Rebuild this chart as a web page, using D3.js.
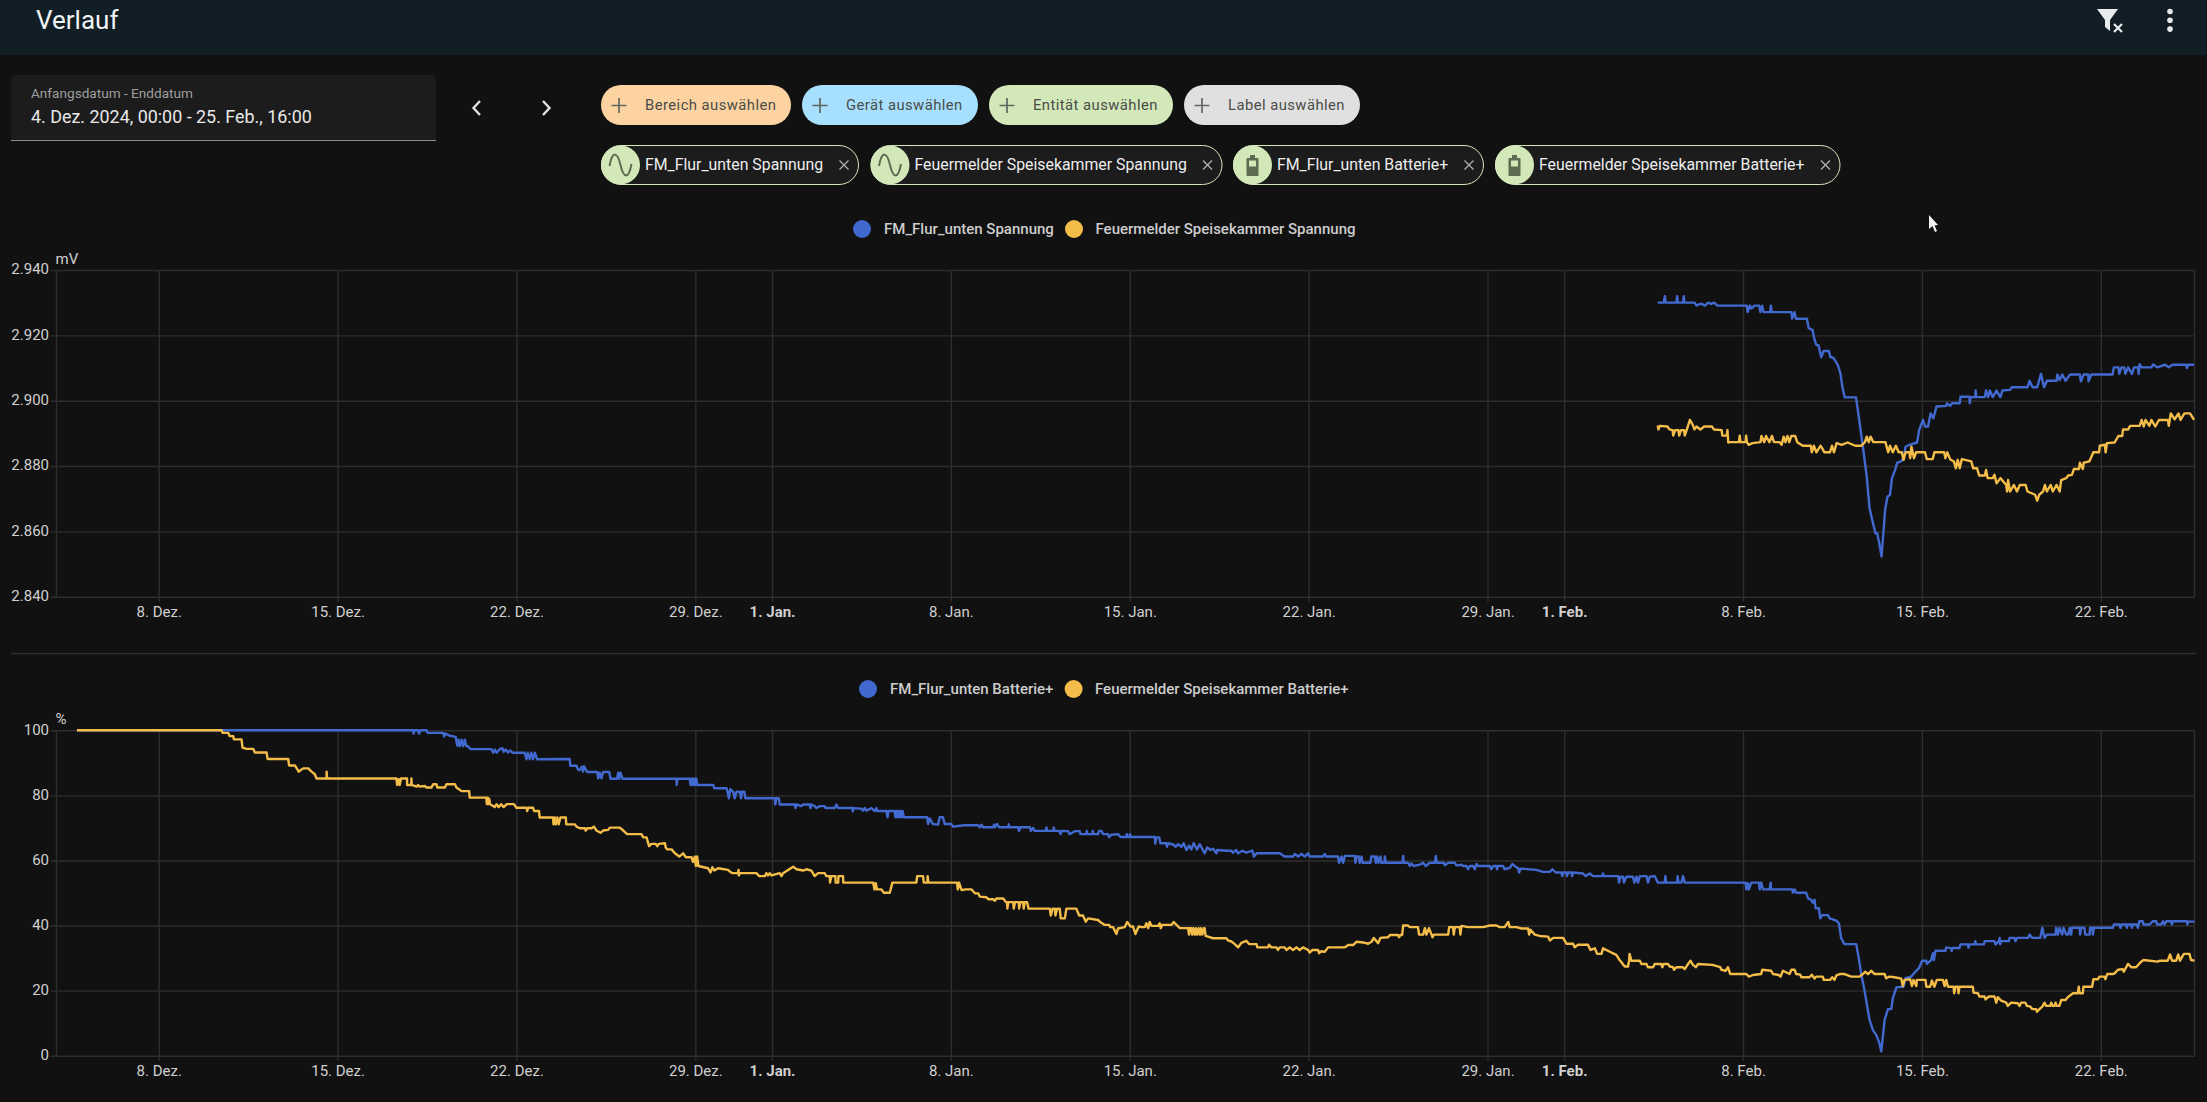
<!DOCTYPE html>
<html>
<head>
<meta charset="utf-8">
<title>Verlauf</title>
<script src="https://cdn.jsdelivr.net/npm/d3@7"></script>
<style>
  body { margin: 0; background: #111111; overflow: hidden; }
  text { font-family: Roboto, sans-serif; }
  .axis text { font-size: 15px; fill: #d0d0d0; font-family: Roboto, sans-serif; }
  .axis path { display: none; }
  .axis line { stroke: #2e2e2e; stroke-width: 1.4px; }
</style>
</head>
<body>
<script>
// Set globals
const tickDays = [4, 11, 18, 25, 28, 35, 42, 49, 56, 59, 66, 73, 80];
const tickLabels = ["8. Dez.", "15. Dez.", "22. Dez.", "29. Dez.", "1. Jan.", "8. Jan.", "15. Jan.", "22. Jan.", "29. Jan.", "1. Feb.", "8. Feb.", "15. Feb.", "22. Feb."];
const boldLabels = ["1. Jan.", "1. Feb."];
const voltTicks = [2840, 2860, 2880, 2900, 2920, 2940];
const percentTicks = [0, 20, 40, 60, 80, 100];

const addButtons = ["Bereich auswählen", "Gerät auswählen", "Entität auswählen", "Label auswählen"];
const voltNames = ["FM_Flur_unten Spannung", "Feuermelder Speisekammer Spannung"];
const batteryNames = ["FM_Flur_unten Batterie+", "Feuermelder Speisekammer Batterie+"];

// [days since 4. Dez., mV]
const flurVolt = [[62.66,2930],[62.89,2930],[62.94,2932],[62.97,2930],[63.39,2930],[63.42,2932],[63.45,2930],[63.65,2930],[63.68,2932],[63.71,2930],[64.1,2930],[64.18,2929.1],[64.3,2929.6],[64.4,2929.6],[64.51,2929.1],[64.63,2930],[64.75,2929.6],[64.87,2930],[65,2929.1],[66.15,2929.1],[66.18,2927.1],[66.27,2929.1],[66.33,2928.2],[66.45,2929.1],[66.63,2929.1],[66.68,2927.1],[66.75,2929.1],[66.8,2927.1],[67.06,2927.1],[67.09,2929.1],[67.12,2927.1],[67.89,2927.1],[67.92,2925.1],[68.01,2927.1],[68.07,2925.1],[68.5,2925.1],[68.57,2922.2],[68.72,2921.6],[68.8,2918.6],[68.87,2917],[68.95,2917],[69.06,2913.3],[69.15,2915.2],[69.36,2915.2],[69.42,2913.3],[69.48,2913.3],[69.56,2912.9],[69.71,2910.9],[69.81,2908.4],[69.89,2904.1],[69.98,2901],[70.42,2901],[70.51,2896.1],[70.69,2885.9],[70.84,2876.8],[70.95,2867.1],[71.04,2864],[71.18,2859.4],[71.25,2859.4],[71.33,2856.4],[71.42,2852.3],[71.56,2866.6],[71.65,2870.6],[71.75,2871.2],[71.83,2876.3],[71.95,2878.8],[72.03,2881],[72.18,2881.4],[72.28,2882.4],[72.36,2885.9],[72.51,2886.5],[72.81,2887.2],[72.89,2891],[73.04,2894.1],[73.12,2892.1],[73.24,2892.1],[73.34,2896.1],[73.45,2894.6],[73.57,2898.2],[73.95,2898.4],[73.98,2899.2],[74.1,2898.4],[74.18,2899.2],[74.48,2899.2],[74.51,2901.2],[74.86,2901.2],[74.87,2899.2],[74.9,2901.1],[75.09,2901.1],[75.1,2903.1],[75.13,2901.1],[75.46,2901.1],[75.51,2903.1],[75.59,2901.1],[75.66,2903.1],[75.77,2901.1],[75.92,2903.1],[76.07,2901.1],[76.15,2903.1],[76.45,2903.3],[76.52,2904.1],[76.68,2904.1],[77.13,2904.1],[77.21,2906.1],[77.33,2904.1],[77.51,2904.1],[77.66,2908.2],[77.78,2904.1],[77.89,2906.1],[78.27,2906.1],[78.3,2908],[78.39,2906.3],[78.49,2908],[78.62,2906.1],[78.8,2908],[79.18,2908],[79.22,2905.9],[79.33,2908],[79.51,2908],[79.52,2905.9],[79.63,2908],[79.75,2908],[80.46,2908],[80.51,2910.2],[80.69,2910.2],[80.72,2908.2],[80.81,2910.2],[80.92,2910.2],[80.96,2908.2],[81.07,2910.2],[81.22,2908.2],[81.3,2910.2],[81.45,2910.2],[81.48,2908.2],[81.52,2911.2],[81.6,2910.2],[81.98,2910.2],[82.05,2911.1],[82.21,2910.2],[82.51,2911],[82.66,2910.2],[82.81,2911],[83.34,2911],[83.37,2910],[83.42,2911],[83.65,2911]];

const kammerVolt = [[62.66,2892.4],[62.69,2891.2],[62.74,2892.3],[63.04,2892.1],[63.12,2891.2],[63.24,2891],[63.27,2889.3],[63.34,2891],[63.47,2891],[63.5,2889.3],[63.57,2891],[63.69,2891],[63.72,2889.3],[63.84,2892.1],[63.92,2894.1],[64.03,2892.6],[64.1,2891.2],[64.18,2892.1],[64.33,2891.2],[64.48,2892.1],[64.78,2892.1],[64.86,2891.2],[65.16,2891],[65.19,2889.3],[65.36,2889.3],[65.39,2891],[65.42,2887.2],[65.47,2887.3],[65.84,2887.3],[65.87,2889.3],[65.9,2887.3],[66.1,2887.3],[66.12,2889.3],[66.15,2887.3],[66.22,2886.5],[66.37,2887],[66.68,2887.3],[66.72,2889.2],[66.83,2887.3],[66.9,2889.2],[67.03,2887.3],[67.13,2889.2],[67.21,2887.3],[67.43,2887.3],[67.51,2886.5],[67.59,2889],[67.66,2887.3],[67.74,2889.2],[67.81,2887.3],[67.89,2889.2],[68.04,2889.2],[68.12,2887.3],[68.34,2886.2],[68.65,2886.2],[68.69,2884.2],[68.77,2886.2],[68.87,2884.2],[69.03,2886.2],[69.1,2885.4],[69.18,2884.2],[69.4,2884.2],[69.48,2886.2],[69.56,2884.2],[69.66,2887],[69.86,2886.5],[70.09,2887.2],[70.39,2886.2],[70.62,2886.2],[70.77,2887.3],[70.84,2889],[70.92,2887.3],[70.99,2889],[71.1,2887.3],[71.57,2887.3],[71.68,2884.2],[71.75,2886.2],[71.86,2884.2],[71.98,2886.2],[72.09,2884.2],[72.21,2884.2],[72.28,2881.9],[72.36,2884.2],[72.51,2884.2],[72.54,2882.4],[72.59,2885.9],[72.69,2882.4],[72.77,2884.2],[73.12,2884.2],[73.19,2882.1],[73.42,2882.1],[73.49,2884.2],[73.87,2884.2],[73.92,2882.4],[73.99,2884.2],[74.1,2882.1],[74.25,2881.4],[74.33,2879.3],[74.4,2881.9],[74.48,2879.3],[74.56,2882.1],[74.93,2881.4],[75.01,2879.3],[75.16,2879.3],[75.24,2877.1],[75.46,2877.1],[75.51,2878.8],[75.57,2876.3],[75.77,2876.3],[75.84,2877.3],[75.92,2874.7],[76.07,2876.3],[76.3,2874.2],[76.33,2872.2],[76.37,2875.7],[76.45,2872.2],[76.6,2874.2],[76.72,2872.2],[76.83,2874.2],[77.06,2874.2],[77.13,2872.2],[77.43,2871.2],[77.51,2869.4],[77.59,2871.2],[77.74,2872.2],[77.81,2874.2],[77.89,2872.2],[78.04,2874.2],[78.12,2872.2],[78.27,2874.2],[78.39,2872.2],[78.45,2875.7],[78.65,2876.3],[78.72,2877.1],[78.87,2877.3],[78.95,2879.1],[79.15,2879.1],[79.18,2881],[79.3,2879.1],[79.33,2881],[79.55,2881.4],[79.71,2884.2],[79.93,2884.2],[79.96,2886.2],[80.16,2886.5],[80.19,2884.2],[80.24,2887],[80.54,2887.2],[80.69,2889.2],[80.84,2889.2],[80.87,2891.2],[81.07,2891.2],[81.15,2892.3],[81.52,2892.3],[81.6,2894.1],[81.68,2892.1],[81.75,2894.1],[81.9,2892.3],[81.98,2894.1],[82.13,2892.1],[82.28,2894.1],[82.63,2894.1],[82.66,2892.3],[82.74,2896.1],[82.89,2894.3],[83.04,2896.1],[83.12,2894.1],[83.27,2896.1],[83.49,2896.1],[83.65,2894.1]];

// [days since 4. Dez., percent]
const flurBattery = [[0.8,100],[13.96,100],[13.97,99],[14.01,100],[14.15,100],[14.19,99],[14.24,100],[14.48,100],[14.52,99.2],[15.13,99.2],[15.17,98.1],[15.23,99],[15.36,98.4],[15.62,98],[15.68,95.3],[15.73,97.1],[15.78,95.1],[15.85,97.1],[15.91,95.1],[15.98,97.1],[16.04,95.1],[16.11,95.1],[16.2,94.2],[17.02,94.2],[17.09,93.1],[17.15,94.1],[17.22,93.1],[17.35,94.2],[17.45,94.5],[17.5,93.4],[17.58,94.1],[17.67,93.2],[17.76,93.8],[17.84,93.1],[18.32,93.1],[18.39,91.1],[18.44,93.1],[18.52,91.1],[18.58,93.1],[18.65,91.1],[18.72,93.1],[18.81,91.1],[20.08,91.2],[20.11,89.1],[20.35,89.1],[20.41,87.9],[20.48,87.8],[20.55,88.8],[20.61,87.3],[20.64,89],[20.77,87.2],[21.16,87.2],[21.2,85.2],[21.26,87],[21.33,85.2],[21.39,87.2],[21.63,87.2],[21.68,85.1],[21.94,85.1],[21.98,87],[22.02,85.1],[22.07,87],[22.15,85.1],[24.26,85.1],[24.27,83.2],[24.3,85.1],[24.78,85.1],[24.81,83.2],[24.85,85.1],[24.86,83.2],[24.91,85.1],[24.93,83.2],[24.98,85.1],[24.99,83.2],[25.04,85.1],[25.07,83.2],[25.7,83.2],[25.74,82.2],[26.22,82.2],[26.26,81.1],[26.31,79.1],[26.37,81.9],[26.48,81.1],[26.54,79.1],[26.61,81.1],[26.74,81.1],[26.79,79.1],[26.83,81.1],[26.92,81.1],[26.96,79.1],[28.11,79.1],[28.13,77.2],[28.17,79.1],[28.27,79.1],[28.3,77.2],[28.89,77.2],[28.92,76.1],[28.96,77.2],[29.15,76.7],[29.22,77.2],[29.48,77.2],[29.5,76.1],[29.54,77.2],[29.67,76.7],[29.74,76.1],[29.87,76.7],[30.06,76.7],[30.1,76.1],[30.46,76.1],[30.52,77.2],[30.59,76.1],[31.15,76.1],[31.16,75.1],[31.19,76.1],[31.5,75.9],[31.56,75.3],[31.63,76.1],[31.69,75.3],[31.89,76.1],[32.02,75.2],[32.09,76.1],[32.11,75.2],[32.48,75.2],[32.52,73.3],[32.56,75.2],[32.8,75.2],[32.83,73.3],[32.87,75.2],[32.91,73.3],[32.95,75.2],[32.99,73.3],[33.03,75.2],[33.07,73.3],[33.11,75.2],[33.16,73.3],[34.07,73.3],[34.11,71.2],[34.17,72.9],[34.3,71.2],[34.5,71],[34.56,73.3],[34.69,73.3],[34.76,71.2],[35.02,71.2],[35.08,70.4],[35.28,70.6],[35.48,70.8],[36.07,70.8],[36.13,70.2],[36.2,71],[36.26,70.2],[36.65,70.2],[36.69,71],[36.72,70.2],[36.81,71.2],[36.89,70.2],[37.24,70.2],[37.27,71.1],[37.29,70.2],[37.63,70.2],[37.67,69.1],[37.71,70.2],[38.09,70.2],[38.13,69.1],[38.22,70],[38.28,69.1],[38.71,69.1],[38.74,70.1],[38.77,69.1],[39,69.1],[39.03,70.1],[39.05,69.1],[39.24,69.1],[39.29,68.1],[39.33,69.1],[39.59,69],[39.65,68.1],[39.85,69],[40.04,69],[40.07,68.1],[40.31,68.1],[40.32,69.1],[40.34,68.1],[40.54,68.1],[40.55,69.1],[40.58,68.1],[40.76,68.1],[40.8,69.1],[40.89,69.1],[40.96,68.1],[41.15,68.1],[41.19,67.2],[41.28,67.9],[41.54,68.1],[41.64,67.2],[41.87,67.2],[41.88,68.1],[41.91,67.2],[42,67.2],[42.01,68.1],[42.04,67.2],[42.98,67.2],[43,65.2],[43.04,67.1],[43.15,67.1],[43.2,65.3],[43.43,65.3],[43.46,64.2],[43.5,65.3],[43.7,64.9],[43.8,64.2],[43.89,65],[44.02,64.2],[44.11,65.3],[44.22,63.2],[44.32,64.6],[44.41,63.4],[44.5,65.3],[44.63,63.4],[44.74,65],[44.93,62.2],[45.03,64],[45.16,63.2],[45.26,63.6],[45.39,62.2],[45.42,63.2],[45.78,63],[45.98,63],[46.04,62.4],[46.17,63.2],[46.24,62.2],[46.41,63],[46.56,62.4],[46.8,63],[46.86,61.2],[46.96,62.2],[47.87,62.2],[48.06,61.2],[48.39,61.2],[48.46,62],[48.59,61.2],[48.72,62],[48.85,61.2],[48.98,62.2],[49.04,61.2],[49.56,61.2],[49.63,62],[49.69,61.2],[50.15,61.2],[50.19,59.3],[50.29,61.2],[50.35,59.3],[50.42,61.4],[50.81,61.4],[50.83,59.3],[50.87,61.2],[50.96,61.2],[51,59.3],[51.07,61.2],[51.11,59.3],[51.42,59.3],[51.45,61.2],[51.59,61.2],[51.63,59.3],[51.68,61.2],[51.73,59.3],[51.81,61.2],[51.84,59.3],[51.97,59.3],[51.98,61.2],[52.02,59.3],[52.67,59.3],[52.7,61.4],[52.72,59.3],[52.89,59.3],[52.96,58.3],[53.02,59.1],[53.11,58.3],[53.35,58.7],[53.48,59.3],[53.58,58.3],[53.74,59.3],[53.94,59.3],[53.98,61.4],[54.01,59.3],[54.29,59.3],[54.33,58.5],[54.46,59.3],[54.72,59.3],[54.78,58.5],[54.98,58.7],[55.05,58.3],[55.18,58.3],[55.24,57.3],[55.31,58.3],[55.44,58.3],[55.5,57.3],[55.57,58.9],[55.63,58.3],[56.09,58.3],[56.15,57.3],[56.22,58.3],[56.35,58.3],[56.37,57.3],[56.41,58.3],[56.61,58.3],[56.67,57.3],[56.87,57.7],[56.97,58.9],[57.1,58.1],[57.2,57.6],[57.24,56.3],[57.29,57.5],[57.91,57.1],[58.17,56.5],[58.44,56.5],[58.54,57.3],[58.67,56.3],[58.89,56.3],[58.92,55.2],[58.96,56.3],[59.09,56.3],[59.11,55.2],[59.15,56.3],[59.28,56.3],[59.31,55.2],[59.35,56.3],[59.74,56],[59.84,55.2],[60,56],[60.13,55.2],[60.48,55.2],[60.52,56],[60.55,55.2],[61.11,55.2],[61.15,53.2],[61.2,55],[61.3,55],[61.34,53.2],[61.43,55],[61.69,55],[61.75,53.2],[61.83,55],[61.89,53.2],[61.96,55.2],[62.22,55.2],[62.28,53.2],[62.35,55],[62.54,55.2],[62.67,53.2],[62.93,53.2],[62.96,55.2],[62.99,53.2],[63.42,53.2],[63.44,55.2],[63.47,53.2],[63.59,53.2],[63.65,55.2],[63.72,53.2],[66.1,53.2],[66.13,51.1],[66.19,53],[66.23,51.1],[66.32,53.2],[66.62,53.2],[66.65,51.1],[66.71,53.2],[66.78,51.1],[67.04,51.1],[67.08,53.2],[67.1,51.1],[67.93,51.1],[67.95,50.1],[68.02,51.1],[68.08,50.1],[68.47,50.1],[68.54,48.4],[68.67,47.9],[68.73,47],[68.8,47.9],[68.84,45.3],[68.97,45.3],[69.02,42.2],[69.1,43.2],[69.32,43.2],[69.39,42.2],[69.65,41.5],[69.75,40.7],[69.84,36.1],[69.97,34.3],[70.43,34.3],[70.53,29.9],[70.62,25.3],[70.75,20.2],[70.95,11],[71.08,7.9],[71.21,6.4],[71.34,3.8],[71.41,1.3],[71.54,11],[71.67,14.3],[71.8,14.3],[71.86,17.6],[72,21],[72.28,21.2],[72.36,23.8],[72.58,24.3],[72.71,25.5],[72.88,26.9],[73.01,29.2],[73.17,29.2],[73.19,28.2],[73.36,29.4],[73.43,31.5],[73.47,29.4],[73.53,32.3],[73.92,32.2],[73.95,33.3],[74.15,33],[74.16,32.2],[74.19,33.1],[74.47,33.1],[74.51,34.2],[74.8,34.2],[74.82,33.2],[74.86,34.2],[75.06,34.2],[75.09,35.2],[75.11,34.2],[75.42,34.2],[75.46,35.2],[75.84,35.2],[75.88,34.2],[76.01,35.2],[76.04,36.2],[76.06,34.2],[76.1,35.2],[76.4,35.2],[76.43,36.2],[76.62,36.2],[76.66,35.2],[76.72,36.2],[77.15,36.2],[77.21,37.2],[77.32,36.2],[77.63,36.2],[77.71,39.3],[77.8,36.2],[77.89,37.2],[78.23,37.2],[78.25,39.3],[78.32,37.2],[78.38,39.3],[78.49,37.2],[78.54,39.3],[78.65,37.2],[78.72,37.2],[78.78,39.2],[78.84,37.2],[78.87,39.3],[79.17,39.3],[79.19,37.2],[79.23,39.3],[79.36,39.3],[79.39,37.2],[79.56,37.2],[79.58,39.3],[79.66,39.3],[79.69,37.2],[79.73,39.3],[80.47,39.3],[80.51,40.3],[80.73,40.3],[80.77,39.3],[80.81,40.3],[80.99,40.3],[81.02,39.3],[81.04,40.3],[81.19,40.3],[81.21,39.3],[81.25,40.3],[81.41,40.3],[81.45,39.3],[81.51,41.3],[81.64,41.3],[81.67,40.3],[81.9,40.3],[82.03,41.3],[82.17,41.3],[82.2,40.3],[82.36,40.3],[82.43,41.3],[82.49,40.3],[82.56,41.3],[82.75,41.3],[82.78,40.3],[82.82,41.3],[83.37,41.3],[83.39,40.3],[83.42,41.2],[83.67,41.2]];

const kammerBattery = [[0.8,100],[6.46,100],[6.5,99.2],[6.72,99.2],[6.78,98.2],[6.92,98.2],[6.94,97.2],[7.24,97.2],[7.28,94.7],[7.44,94.3],[7.7,94.3],[7.76,93.2],[8.22,93.2],[8.26,91.2],[9.07,91.2],[9.1,89.2],[9.33,89.2],[9.48,87.3],[9.65,88.3],[9.85,88.3],[9.98,87.3],[10.11,86.5],[10.17,85.2],[10.57,85.2],[10.57,87.3],[10.59,85.2],[13.3,85.2],[13.33,83.2],[13.39,85],[13.43,83.2],[13.48,85.2],[13.72,85.2],[13.72,83.2],[13.88,83.2],[13.89,85.2],[13.9,83.2],[14.09,82.7],[14.15,83.2],[14.2,82.7],[14.41,82.9],[14.48,82.4],[14.67,82.4],[14.74,83.4],[14.87,83.4],[14.9,82.4],[15.2,82.4],[15.26,83.4],[15.59,83.4],[15.65,82.4],[15.78,81.7],[15.85,81.3],[16.15,81.3],[16.17,79.3],[16.82,79.3],[16.84,77.3],[16.87,79.3],[16.9,77.3],[16.93,79],[16.97,77.3],[17.15,76.4],[17.22,77.3],[17.3,76.4],[17.4,77.3],[17.5,76.4],[17.62,77.3],[17.9,77.3],[18,76.2],[18.39,76.2],[18.42,75.2],[18.46,76.2],[18.65,76.2],[18.69,75.2],[18.88,75.2],[18.91,73.2],[19.43,73.2],[19.45,71.1],[19.5,73.2],[19.54,71.1],[19.6,73.2],[19.65,71.1],[19.72,73.2],[19.93,73.2],[19.95,71.1],[20.28,71.1],[20.35,70.4],[20.48,69.9],[20.68,69.9],[20.71,69.2],[20.77,69.9],[20.94,69.9],[21.03,70.4],[21.13,69.2],[21.29,68.5],[21.39,69.2],[21.59,69.4],[21.65,70.1],[22.04,70.1],[22.18,69.2],[22.33,68.1],[22.89,68.1],[22.96,67.1],[23.09,67.1],[23.19,64.4],[23.28,65.1],[23.45,65.1],[23.51,64.4],[23.57,65.1],[23.81,65.3],[23.84,64],[23.9,63.4],[24.07,63.4],[24.2,62.2],[24.37,61.2],[24.52,62.2],[24.63,61],[24.85,61],[24.91,59.6],[24.98,61.2],[25.02,58.3],[25.07,61.2],[25.12,58.3],[25.5,57.6],[25.59,56.3],[25.67,57.9],[25.74,56.9],[25.89,57.6],[26.28,57.1],[26.35,56.6],[26.45,56.1],[26.67,56.1],[26.69,57.1],[26.7,55.4],[26.74,56.1],[27.39,56.1],[27.5,55.2],[27.72,55.2],[27.78,56.1],[27.85,55.4],[27.91,56.1],[27.98,55.4],[28.3,56.1],[28.37,55.2],[28.43,56.1],[28.63,57.1],[28.83,58.1],[28.96,57.3],[29.22,56.9],[29.35,57.3],[29.54,56.9],[29.67,55.2],[29.8,56.1],[30.06,56.1],[30.13,55.2],[30.26,55.2],[30.27,53.2],[30.33,55.2],[30.48,55.2],[30.49,53.2],[30.59,53.2],[30.6,55.2],[30.78,55.2],[30.79,53.2],[31.96,53.2],[32.01,51.1],[32.06,53],[32.11,51.1],[32.28,51.1],[32.37,50.1],[32.61,50.1],[32.71,53.2],[33.65,53.2],[33.68,55.2],[33.91,55.2],[33.94,53.2],[34.08,53.2],[34.09,55.2],[34.12,53.2],[35.24,53.2],[35.27,51.1],[35.32,53.2],[35.42,50.9],[35.58,51.1],[35.81,51.1],[35.94,49.9],[36.07,49.9],[36.13,48.9],[36.39,48.7],[36.46,48.1],[36.65,48.1],[36.72,47.6],[36.78,48.3],[37.05,48.3],[37.15,47.2],[37.2,47.2],[37.21,45.2],[37.25,47.2],[37.44,47.2],[37.46,45.2],[37.51,47.2],[37.66,47.2],[37.67,45.2],[37.72,47.2],[37.83,47.2],[37.85,45.2],[37.89,47.2],[37.98,47.2],[38.04,45.2],[38.87,45.2],[38.91,43.1],[38.98,45.2],[39.07,45.2],[39.09,43.1],[39.16,45.2],[39.26,45.2],[39.3,42.2],[39.46,42.2],[39.52,45.2],[39.91,45.2],[40.02,43.1],[40.17,43.1],[40.28,41.2],[40.37,42.2],[40.76,41.7],[40.83,41.2],[41.02,40.2],[41.19,40.2],[41.24,39.5],[41.35,39.5],[41.48,37.4],[41.54,39.1],[41.8,39.5],[41.9,41.1],[42.03,39.7],[42.13,39.7],[42.22,37.4],[42.35,39.7],[42.46,39.5],[42.59,39.5],[42.65,40.7],[42.72,39.2],[42.78,41.1],[42.85,39.9],[43.11,39.9],[43.17,40.7],[43.21,39.2],[43.27,40.2],[43.63,40.2],[43.72,41.1],[43.83,40.2],[43.96,39.2],[44.28,39.2],[44.32,37.2],[44.35,39.2],[44.41,39.2],[44.44,37.2],[44.48,39.2],[44.54,37.2],[44.58,39.2],[44.63,37.2],[44.69,39.2],[44.74,37.2],[44.79,39.2],[44.84,37.2],[44.9,39.2],[44.93,39.2],[44.97,36.8],[45.26,36.1],[45.78,36.1],[45.85,35.4],[45.98,35.1],[46.11,34.3],[46.24,33.3],[46.37,34.7],[46.56,35.3],[46.67,34.3],[46.96,34.3],[46.99,33.3],[47.41,33.3],[47.45,34.1],[47.54,33.3],[47.74,33.3],[47.8,32.5],[47.87,33.3],[48.06,33.3],[48.13,32.5],[48.26,33.3],[48.39,32.5],[48.52,33.3],[48.65,32.5],[48.78,33.3],[48.98,32.5],[49.04,31.7],[49.15,32.5],[49.37,32.5],[49.41,31.5],[49.5,32.1],[49.63,31.9],[49.76,33.3],[50.22,33.3],[50.42,33.3],[50.55,34],[50.74,34],[50.87,35],[51.13,34.8],[51.33,34.4],[51.46,35],[51.55,36.2],[51.72,34.6],[51.81,36.2],[52.11,36.4],[52.18,37.1],[52.5,37.1],[52.54,36.4],[52.59,37.1],[52.66,37.1],[52.7,40],[52.89,40],[52.96,39.5],[53.28,39.5],[53.32,37.2],[53.48,37.2],[53.55,39.2],[53.61,37.2],[53.71,39.2],[53.81,37.2],[53.85,36.4],[53.9,37.2],[54.46,37.2],[54.5,39.5],[54.65,39.5],[54.68,37.2],[54.72,39.5],[54.91,39.5],[54.94,37.2],[54.98,39.9],[55.24,39.5],[55.63,39.5],[55.83,39.5],[56.09,40],[56.35,40],[56.48,39.5],[56.67,39.5],[56.81,41.1],[56.87,39.5],[57.13,39.5],[57.33,39.1],[57.59,39.1],[57.63,37.2],[57.68,38.7],[57.85,37.2],[58.04,36.8],[58.37,36.6],[58.44,35.4],[58.57,36.2],[58.96,36.2],[59.09,34.4],[59.35,34.4],[59.41,33.3],[59.54,34.1],[59.93,34.1],[60.03,32.5],[60.2,33],[60.29,31.3],[60.46,31.3],[60.52,33],[60.85,31.7],[61.04,31],[61.17,29.4],[61.37,27.4],[61.5,27.4],[61.54,29.2],[61.56,31.3],[61.63,29.2],[61.96,29.2],[62.02,28.2],[62.22,28.2],[62.28,27.2],[62.48,27.2],[62.54,28.2],[62.8,28.2],[62.84,27.2],[62.89,28.2],[63.06,28.2],[63.13,27.4],[63.26,27.2],[63.3,26.4],[63.39,27.2],[63.65,27.2],[63.72,26.6],[63.85,28.2],[63.94,29.2],[64.04,27.9],[64.15,27.2],[64.24,28.2],[64.8,27.9],[65.11,27.2],[65.15,26.4],[65.32,26.1],[65.41,27.2],[65.5,25.1],[65.86,25.1],[66.13,25.1],[66.23,24.3],[66.39,24.8],[66.71,25.1],[66.75,26.4],[67.1,26.1],[67.17,25.1],[67.4,24.8],[67.47,24.3],[67.56,26.1],[67.82,25.1],[67.89,26.4],[68.02,26.4],[68.08,25.1],[68.24,24.9],[68.28,24.1],[68.6,24.1],[68.69,24.9],[68.8,23.7],[68.86,24.3],[69.12,24.3],[69.16,23.3],[69.41,23.3],[69.49,24.1],[69.58,23.3],[69.65,24.7],[69.78,25.1],[69.97,25.1],[70.23,24.3],[70.56,24.3],[70.69,25.1],[70.78,25.8],[70.89,25.1],[71.02,26.1],[71.15,25.1],[71.54,25.1],[71.6,23.8],[71.73,24.3],[71.93,24.1],[72.19,23.7],[72.25,21.4],[72.32,23.3],[72.54,23.5],[72.61,21.4],[72.67,23.3],[72.78,21.4],[72.8,23.3],[73.14,23.3],[73.17,21.2],[73.32,21.2],[73.39,23.1],[73.49,21.2],[73.58,23.3],[73.82,23.3],[73.89,21.4],[73.95,23.3],[74.02,21.2],[74.24,21.2],[74.26,19.2],[74.32,21.2],[74.41,21.2],[74.43,19.2],[74.47,21.2],[74.99,21.2],[75.02,19.4],[75.19,19.2],[75.25,18.2],[75.45,18.2],[75.49,17.3],[75.62,18.2],[75.84,18.2],[75.91,16.3],[75.97,18],[76.1,16.9],[76.3,16.3],[76.36,15.3],[76.49,16.3],[76.75,16.1],[76.82,15.3],[76.88,16.3],[77.05,16.3],[77.11,15.3],[77.24,15.1],[77.32,14.3],[77.47,14.3],[77.5,13.5],[77.6,14.3],[77.71,15.1],[77.8,16.3],[77.86,15.3],[78.02,15.3],[78.06,16.3],[78.12,15.3],[78.19,15.3],[78.23,16.3],[78.28,15.3],[78.38,15.3],[78.45,17.1],[78.62,17.1],[78.71,18],[78.91,19.2],[79.1,19.2],[79.14,21.2],[79.17,19.2],[79.3,19.2],[79.32,21.2],[79.66,21.2],[79.71,23.5],[79.88,23.5],[79.95,24.3],[80.14,24.3],[80.18,23.5],[80.25,25.1],[80.47,25.1],[80.54,25.3],[80.67,26.4],[80.86,26.6],[80.9,25.8],[81.06,28.2],[81.19,27.2],[81.38,27.2],[81.58,28.9],[81.67,29.4],[82.23,28.9],[82.3,29.2],[82.62,29.2],[82.71,31.1],[82.79,29.2],[82.95,29.2],[83.03,31.1],[83.1,29.2],[83.25,31.3],[83.47,31.3],[83.53,29.4],[83.67,29.2]];

const blue = "#4269d0";
const yellow = "#f4bd4a";
const plotLeft = 56.5, plotRight = 2194.5;
const start = Date.UTC(2024, 11, 4);
const dayDate = function (d) { return new Date(start + d * 864e5); };

const svg = d3.select("body").append("svg")
  .attr("width", 2207).attr("height", 1102)
  .style("display", "block");

const de = d3.formatLocale({ decimal: ",", thousands: ".", grouping: [3], currency: ["", " €"] });

const x = d3.scaleUtc()
  .domain([dayDate(0), new Date(Date.UTC(2025, 1, 25, 16))])
  .range([plotLeft, plotRight]);

// header bar
svg.append("rect").attr("width", 2207).attr("height", 55).attr("fill", "#111e25");
svg.append("text").attr("x", 36).attr("y", 29).attr("font-size", 26).attr("fill", "#f0f3f4").text("Verlauf");

// filter icon + menu dots
svg.append("path").attr("d", "M2097,9H2118L2110,20V31L2105,27V20Z").attr("fill", "#e8ebec");
svg.append("path").attr("d", "M2114,24L2122,32M2122,24L2114,32").attr("stroke", "#e8ebec").attr("stroke-width", 2.2);
svg.selectAll(".dot").data([0, 1, 2]).enter().append("circle")
  .attr("cx", 2170).attr("cy", function (d) { return 11.5 + d * 8.8; }).attr("r", 2.8).attr("fill", "#e8ebec");

// date field
svg.append("path").attr("d", "M11,140V80a5,5 0 0 1 5,-5H431a5,5 0 0 1 5,5V140Z").attr("fill", "#1c1c1c");
svg.append("line").attr("x1", 11).attr("x2", 436).attr("y1", 140.5).attr("y2", 140.5).attr("stroke", "#8c8c8c").attr("stroke-width", 1.2);
svg.append("text").attr("x", 31).attr("y", 98).attr("font-size", 13.6).attr("fill", "#9e9e9e").text("Anfangsdatum - Enddatum");
svg.append("text").attr("x", 31).attr("y", 122.5).attr("font-size", 17.9).attr("fill", "#e8e8e8").text("4. Dez. 2024, 00:00 - 25. Feb., 16:00");

// date arrows
svg.append("path").attr("d", "M480,101L473.5,108L480,115").attr("fill", "none").attr("stroke", "#e0e0e0").attr("stroke-width", 2.4);
svg.append("path").attr("d", "M543,101L549.5,108L543,115").attr("fill", "none").attr("stroke", "#e0e0e0").attr("stroke-width", 2.4);

// add buttons
const buttonBoxes = [[601, 791, "#fdd3a2"], [802, 978, "#a7dffe"], [989, 1173, "#d3e8b9"], [1184, 1360, "#e0e0e0"]];
buttonBoxes.forEach(function (b, i) {
  svg.append("rect").attr("x", b[0]).attr("y", 85).attr("width", b[1] - b[0]).attr("height", 40).attr("rx", 20).attr("fill", b[2]);
  svg.append("path").attr("d", "M" + (b[0] + 18) + ",98V113M" + (b[0] + 10.5) + ",105.5H" + (b[0] + 25.5))
    .attr("stroke", "#5f6660").attr("stroke-width", 1.7);
  svg.append("text").attr("x", b[0] + 44).attr("y", 110).attr("font-size", 14.8).attr("letter-spacing", 0.45)
    .attr("fill", "#4a4d48").text(addButtons[i]);
});

// selected entity chips
const chipNames = [voltNames[0], voltNames[1], batteryNames[0], batteryNames[1]];
const chipBoxes = [[601, 859, "sine"], [870.5, 1222.5, "sine"], [1233, 1484, "bat"], [1495, 1840.5, "bat"]];
chipBoxes.forEach(function (c, i) {
  const cx = c[0] + 19.5;
  svg.append("rect").attr("x", c[0] + 0.5).attr("y", 145.5).attr("width", c[1] - c[0] - 1).attr("height", 39).attr("rx", 19.5)
    .attr("fill", "#1c1c1c").attr("stroke", "#d3e8b9").attr("stroke-width", 1);
  svg.append("circle").attr("cx", cx).attr("cy", 165).attr("r", 19.5).attr("fill", "#d3e8b9");
  if (c[2] == "sine") {
    svg.append("path").attr("fill", "none").attr("stroke", "#5d6b50").attr("stroke-width", 2)
      .attr("d", "M" + (cx - 11) + ",166C" + (cx - 8) + ",150 " + (cx - 3) + ",152 " + cx + ",165C" + (cx + 3) + ",178 " + (cx + 8) + ",180 " + (cx + 11) + ",164");
  } else {
    svg.append("rect").attr("x", cx - 6).attr("y", 158).attr("width", 12).attr("height", 18).attr("rx", 1).attr("fill", "#5d6b50");
    svg.append("rect").attr("x", cx - 2.5).attr("y", 155).attr("width", 5).attr("height", 3).attr("fill", "#5d6b50");
    svg.append("rect").attr("x", cx - 3.5).attr("y", 160.5).attr("width", 7).attr("height", 6).attr("fill", "#d3e8b9");
  }
  svg.append("text").attr("x", c[0] + 44).attr("y", 170).attr("font-size", 15.85).attr("fill", "#eeeeee").text(chipNames[i]);
  const mx = c[1] - 15;
  svg.append("path").attr("d", "M" + (mx - 4.5) + ",160.5L" + (mx + 4.5) + ",169.5M" + (mx + 4.5) + ",160.5L" + (mx - 4.5) + ",169.5")
    .attr("stroke", "#b0b0b0").attr("stroke-width", 1.3);
});

// mouse pointer left in the screenshot
svg.append("path").attr("d", "M1929,215V229L1932.5,226L1935,232L1937,231L1934.5,225.5L1938,225Z").attr("fill", "#f5f5f5");

// divider between the charts
svg.append("line").attr("x1", 11).attr("x2", 2196).attr("y1", 653.5).attr("y2", 653.5).attr("stroke", "#2f2f2f").attr("stroke-width", 1.4);

// one chart: grid, axes, lines, legend
function drawChart(opts) {
  const y = d3.scaleLinear().domain(opts.domain).range([opts.bottom, opts.top]);
  const g = svg.append("g");

  // horizontal grid + left labels
  const yAxis = d3.axisLeft(y).tickValues(opts.ticks).tickSize(plotRight - plotLeft + 6).tickPadding(1.5)
    .tickFormat(opts.format);
  const yg = g.append("g").attr("class", "axis").attr("transform", "translate(" + plotRight + ",0)").call(yAxis);
  yg.selectAll("text").attr("dy", "0.25em");

  // vertical grid + bottom labels
  const xAxis = d3.axisBottom(x).tickValues(tickDays.map(dayDate)).tickSize(opts.bottom - opts.top + 5).tickPadding(5)
    .tickFormat(function (d, i) { return tickLabels[i]; });
  const xg = g.append("g").attr("class", "axis").attr("transform", "translate(0," + opts.top + ")").call(xAxis);
  xg.selectAll("text")
    .attr("font-weight", function (d, i) { return boldLabels.indexOf(tickLabels[i]) >= 0 ? 700 : 400; })
    .style("font-weight", function (d, i) { return boldLabels.indexOf(tickLabels[i]) >= 0 ? 700 : 400; });

  // plot frame lines left and right
  [plotLeft, plotRight].forEach(function (px) {
    g.append("line").attr("x1", px).attr("x2", px).attr("y1", opts.top).attr("y2", opts.bottom)
      .attr("stroke", "#2e2e2e").attr("stroke-width", 1.4);
  });

  g.append("text").attr("x", plotLeft - 1).attr("y", opts.top - 6).attr("font-size", 15).attr("fill", "#d0d0d0").text(opts.unit);

  // series
  const line = d3.line()
    .x(function (d) { return x(dayDate(d[0])); })
    .y(function (d) { return y(d[1]); });
  [[opts.series[0], blue], [opts.series[1], yellow]].forEach(function (s) {
    g.append("path").datum(s[0]).attr("d", line)
      .attr("fill", "none").attr("stroke", s[1]).attr("stroke-width", 2.4).attr("stroke-linejoin", "round");
  });

  // legend
  opts.legend.forEach(function (l, i) {
    g.append("circle").attr("cx", l[0]).attr("cy", opts.legendY).attr("r", 9).attr("fill", i == 0 ? blue : yellow);
    g.append("text").attr("x", l[1]).attr("y", opts.legendY + 4.5).attr("font-size", 15).attr("font-weight", 500)
      .attr("fill", "#cdcdcd").text(opts.names[i]);
  });
}

drawChart({
  domain: [2840, 2940], top: 270, bottom: 596.7, ticks: voltTicks, format: de.format(","), unit: "mV",
  series: [flurVolt, kammerVolt], names: voltNames, legendY: 229, legend: [[862, 884], [1074, 1095.5]]
});
drawChart({
  domain: [0, 100], top: 730.3, bottom: 1055.7, ticks: percentTicks, format: d3.format("d"), unit: "%",
  series: [flurBattery, kammerBattery], names: batteryNames, legendY: 689, legend: [[868, 890], [1073.6, 1095]]
});
</script>
</body>
</html>
